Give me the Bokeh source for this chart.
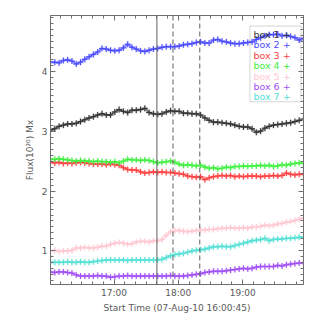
import numpy as np
from bokeh.plotting import figure
from bokeh.models import (Range1d, FixedTicker, LinearAxis, Span, Label, BoxAnnotation, ColumnDataSource)
from bokeh.embed import file_html
from bokeh.resources import INLINE

# ---- data ----
start_minute = 0.75          # 16:00:45, minutes after 16:00
cadence_min = 4.0
n_points = 60
times = start_minute + cadence_min * np.arange(n_points)

box1 = [3.02, 3.04, 3.08, 3.10, 3.12, 3.12, 3.13, 3.16, 3.19, 3.22,
        3.24, 3.27, 3.29, 3.27, 3.27, 3.32, 3.36, 3.33, 3.31, 3.35,
        3.35, 3.36, 3.38, 3.31, 3.29, 3.28, 3.29, 3.32, 3.34, 3.33,
        3.33, 3.30, 3.30, 3.29, 3.29, 3.27, 3.22, 3.18, 3.15, 3.15,
        3.14, 3.13, 3.12, 3.10, 3.08, 3.07, 3.07, 3.04, 2.98, 3.00,
        3.05, 3.08, 3.10, 3.11, 3.12, 3.13, 3.14, 3.16, 3.18, 3.20]
box2 = [4.15, 4.15, 4.14, 4.18, 4.19, 4.17, 4.12, 4.15, 4.20, 4.24,
        4.28, 4.32, 4.38, 4.37, 4.35, 4.34, 4.35, 4.39, 4.45, 4.40,
        4.37, 4.34, 4.33, 4.35, 4.37, 4.38, 4.40, 4.41, 4.41, 4.41,
        4.42, 4.44, 4.45, 4.46, 4.48, 4.49, 4.47, 4.47, 4.52, 4.53,
        4.50, 4.49, 4.47, 4.46, 4.46, 4.47, 4.48, 4.49, 4.53, 4.56,
        4.59, 4.61, 4.61, 4.62, 4.59, 4.60, 4.58, 4.56, 4.52, 4.55]
box3 = [2.48, 2.47, 2.48, 2.46, 2.47, 2.46, 2.47, 2.48, 2.47, 2.46,
        2.45, 2.45, 2.45, 2.44, 2.45, 2.44, 2.43, 2.39, 2.36, 2.35,
        2.35, 2.32, 2.30, 2.31, 2.32, 2.31, 2.32, 2.31, 2.31, 2.30,
        2.29, 2.28, 2.25, 2.24, 2.23, 2.24, 2.19, 2.22, 2.24, 2.25,
        2.26, 2.25, 2.26, 2.24, 2.25, 2.24, 2.25, 2.25, 2.25, 2.24,
        2.25, 2.25, 2.26, 2.25, 2.26, 2.30, 2.28, 2.27, 2.28, 2.28]
box4 = [2.53, 2.53, 2.54, 2.53, 2.52, 2.51, 2.50, 2.51, 2.50, 2.50,
        2.49, 2.50, 2.49, 2.49, 2.48, 2.49, 2.47, 2.50, 2.53, 2.52,
        2.52, 2.51, 2.52, 2.51, 2.49, 2.47, 2.48, 2.49, 2.50, 2.48,
        2.45, 2.43, 2.44, 2.43, 2.42, 2.43, 2.40, 2.38, 2.39, 2.37,
        2.38, 2.40, 2.39, 2.41, 2.41, 2.42, 2.41, 2.42, 2.42, 2.43,
        2.42, 2.43, 2.41, 2.42, 2.44, 2.43, 2.45, 2.46, 2.47, 2.46]
box5 = [1.00, 1.01, 0.99, 1.00, 1.00, 1.01, 1.05, 1.05, 1.06, 1.05,
        1.05, 1.06, 1.08, 1.08, 1.11, 1.13, 1.14, 1.13, 1.11, 1.12,
        1.15, 1.16, 1.16, 1.15, 1.17, 1.17, 1.19, 1.26, 1.32, 1.34,
        1.34, 1.33, 1.32, 1.33, 1.34, 1.35, 1.35, 1.36, 1.36, 1.37,
        1.38, 1.38, 1.39, 1.38, 1.38, 1.39, 1.38, 1.40, 1.40, 1.41,
        1.43, 1.42, 1.43, 1.45, 1.46, 1.48, 1.49, 1.51, 1.53, 1.55]
box6 = [0.65, 0.64, 0.65, 0.65, 0.64, 0.63, 0.60, 0.58, 0.58, 0.58,
        0.58, 0.59, 0.58, 0.58, 0.56, 0.57, 0.58, 0.58, 0.59, 0.58,
        0.58, 0.58, 0.58, 0.58, 0.58, 0.58, 0.58, 0.58, 0.59, 0.58,
        0.58, 0.58, 0.59, 0.60, 0.61, 0.62, 0.64, 0.65, 0.66, 0.66,
        0.66, 0.67, 0.68, 0.69, 0.70, 0.71, 0.70, 0.71, 0.73, 0.74,
        0.74, 0.74, 0.74, 0.76, 0.75, 0.77, 0.78, 0.79, 0.80, 0.80]
box7 = [0.81, 0.81, 0.81, 0.81, 0.82, 0.81, 0.81, 0.82, 0.81, 0.81,
        0.82, 0.83, 0.84, 0.85, 0.85, 0.85, 0.85, 0.85, 0.84, 0.85,
        0.85, 0.85, 0.85, 0.85, 0.85, 0.85, 0.86, 0.89, 0.92, 0.94,
        0.95, 0.96, 0.98, 1.00, 1.01, 1.02, 1.03, 1.05, 1.07, 1.07,
        1.08, 1.07, 1.07, 1.09, 1.11, 1.13, 1.15, 1.17, 1.18, 1.19,
        1.21, 1.17, 1.19, 1.20, 1.20, 1.21, 1.21, 1.22, 1.23, 1.23]

series_names = ["box 1", "box 2", "box 3", "box 4", "box 5", "box 6", "box 7"]
series_values = [box1, box2, box3, box4, box5, box6, box7]
series_colors = ["#333333", "#4b4bff", "#ff4040", "#40f040", "#ffc8d2", "#a050f5", "#55e0d5"]

event_solid = [100.0]          # 17:40
event_dashed = [115.0, 140.0]  # 17:55, 18:20

x_tick_pos = [60, 120, 180]
x_tick_labels = ["17:00", "18:00", "19:00"]
y_ticks = [1, 2, 3, 4]

x_label = "Start Time (07-Aug-10 16:00:45)"
y_label = "Flux(10\u00b2\u2070) Mx"

# ---- figure ----
FONT = "DejaVu Sans"
TXT = "#5a5a5a"
AX = "#707070"

p = figure(width=311, height=315, output_backend="svg", toolbar_location=None,
           x_range=Range1d(times[0], times[-1]), y_range=Range1d(0.44, 4.93),
           min_border_left=50, min_border_right=8, min_border_top=15, min_border_bottom=28,
           x_axis_location=None, y_axis_location=None)
p.grid.visible = False
p.outline_line_color = AX
p.background_fill_color = "white"
p.border_fill_color = "white"

x_minor = [m for m in range(10, 240, 10)]
y_minor = [round(0.1 * k, 1) for k in range(5, 50)]

def style(ax, labels=True):
    ax.axis_line_color = AX
    ax.major_tick_line_color = AX
    ax.minor_tick_line_color = AX
    ax.major_tick_in = 5
    ax.major_tick_out = 0
    ax.minor_tick_in = 3
    ax.minor_tick_out = 0
    ax.major_label_text_font = FONT
    ax.major_label_text_color = TXT
    ax.axis_label_text_font = FONT
    ax.axis_label_text_color = TXT
    ax.axis_label_text_font_style = "normal"
    ax.major_label_text_font_size = "9px"
    ax.axis_label_text_font_size = "9px"
    ax.major_label_standoff = 3

xb = LinearAxis(ticker=FixedTicker(ticks=x_tick_pos, minor_ticks=x_minor),
                axis_label=x_label,
                major_label_overrides={t: l for t, l in zip(x_tick_pos, x_tick_labels)})
style(xb)
xb.axis_label_standoff = 2
p.add_layout(xb, "below")
xt = LinearAxis(ticker=FixedTicker(ticks=x_tick_pos, minor_ticks=x_minor),
                major_label_overrides={t: "" for t in x_tick_pos})
style(xt, labels=False)
xt.major_label_standoff = 0
p.add_layout(xt, "above")

yl = LinearAxis(ticker=FixedTicker(ticks=y_ticks, minor_ticks=y_minor), axis_label=y_label)
style(yl)
yl.axis_label_standoff = 4
p.add_layout(yl, "left")
yr = LinearAxis(ticker=FixedTicker(ticks=y_ticks, minor_ticks=y_minor),
                major_label_overrides={t: "" for t in y_ticks})
style(yr, labels=False)
yr.major_label_standoff = 0
p.add_layout(yr, "right")

# event lines
for t in event_solid:
    p.add_layout(Span(location=t, dimension="height", line_color="#606060", line_width=1))
for t in event_dashed:
    p.add_layout(Span(location=t, dimension="height", line_color="#606060", line_width=1,
                      line_dash="5 3"))

# series
for name, vals, col in zip(series_names, series_values, series_colors):
    src = ColumnDataSource(dict(x=times, y=vals))
    p.line("x", "y", source=src, line_color=col, line_width=2.5, line_alpha=0.3)
    p.scatter("x", "y", source=src, marker="cross", size=6, line_color=col,
              line_width=2, line_alpha=0.25)
    p.line("x", "y", source=src, line_color=col, line_width=1)
    p.scatter("x", "y", source=src, marker="cross", size=6, line_color=col, line_width=1)

# legend (transparent box with coloured entries)
p.add_layout(BoxAnnotation(left=186.8, right=234.5, top=4.754, bottom=3.49,
                           fill_alpha=0, line_color="#777777", line_width=1))
row_y = [4.62, 4.445, 4.27, 4.095, 3.92, 3.745, 3.57]
for name, col, yy in zip(series_names, series_colors, row_y):
    p.add_layout(Label(x=190.0, y=yy, text=name + "  +", text_color=col,
                       text_font=FONT, text_font_size="9.5px", text_baseline="middle",
                       text_align="left"))

open("out.html", "w").write(file_html(p, INLINE))
